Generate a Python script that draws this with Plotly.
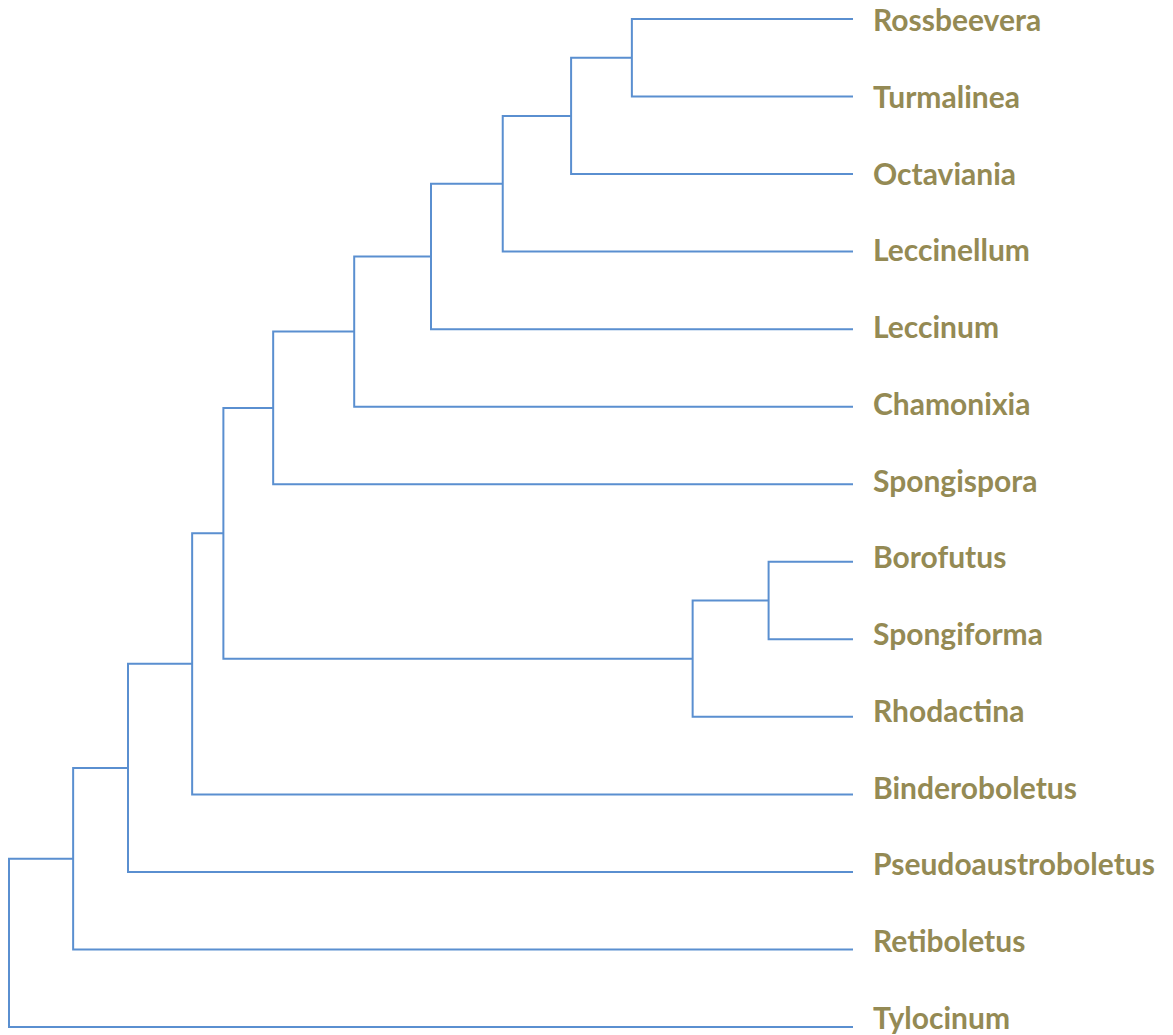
import plotly.graph_objects as go

# Leaves, top to bottom
leaves = ["Rossbeevera", "Turmalinea", "Octaviania", "Leccinellum", "Leccinum",
          "Chamonixia", "Spongispora", "Borofutus", "Spongiforma", "Rhodactina",
          "Binderoboletus", "Pseudoaustroboletus", "Retiboletus", "Tylocinum"]
leaf_depth = 100.0

# Merges (linkage-like): indices < 14 are leaves, >= 14 are earlier merges
merge_a = [0, 14, 15, 16, 17, 18, 7, 20, 19, 22, 23, 24, 25]
merge_b = [1, 2, 3, 4, 5, 6, 8, 9, 21, 10, 11, 12, 13]
merge_depth = [73.8, 66.6, 58.5, 50.0, 40.9, 31.3, 90.0, 81.0, 25.4, 21.7, 14.1, 7.6, 0.0]

n = len(leaves)
node_x = [leaf_depth] * n
node_y = list(range(n))
for a, b, d in zip(merge_a, merge_b, merge_depth):
    node_x.append(d)
    node_y.append((node_y[a] + node_y[b]) / 2)

xs, ys = [], []
for i, (a, b) in enumerate(zip(merge_a, merge_b)):
    k = n + i
    xs += [node_x[a], node_x[k], node_x[k], node_x[b], None]
    ys += [node_y[a], node_y[a], node_y[b], node_y[b], None]

fig = go.Figure()
fig.add_trace(go.Scatter(x=xs, y=ys, mode="lines",
                         line=dict(color="#5A8FD0", width=2),
                         hoverinfo="skip", showlegend=False, cliponaxis=False))

# labels are spaced slightly tighter than the leaf lines in the original
label_drift = 10.0 / (n - 1)
for i, name in enumerate(leaves):
    fig.add_annotation(x=leaf_depth, y=i, xref="x", yref="y", text=name,
                       showarrow=False, xanchor="left", yanchor="middle",
                       xshift=18, yshift=i * label_drift,
                       font=dict(family="Lato", size=30, color="#948A54", weight="bold"))

W, H = 1165, 1027
px_per_unit = 844 / 100
plot_w = 852
x0 = -1 / px_per_unit
x1 = x0 + plot_w / px_per_unit
py = (1019 - 11) / 13
y_top = -11 / py
y_bot = 13 + (H - 1019) / py

fig.update_layout(
    width=W, height=H,
    margin=dict(l=0, r=W - plot_w, t=0, b=0),
    paper_bgcolor="white", plot_bgcolor="white",
    xaxis=dict(range=[x0, x1], visible=False, fixedrange=True),
    yaxis=dict(range=[y_bot, y_top], visible=False, fixedrange=True),
)
fig.write_html("out.html")
